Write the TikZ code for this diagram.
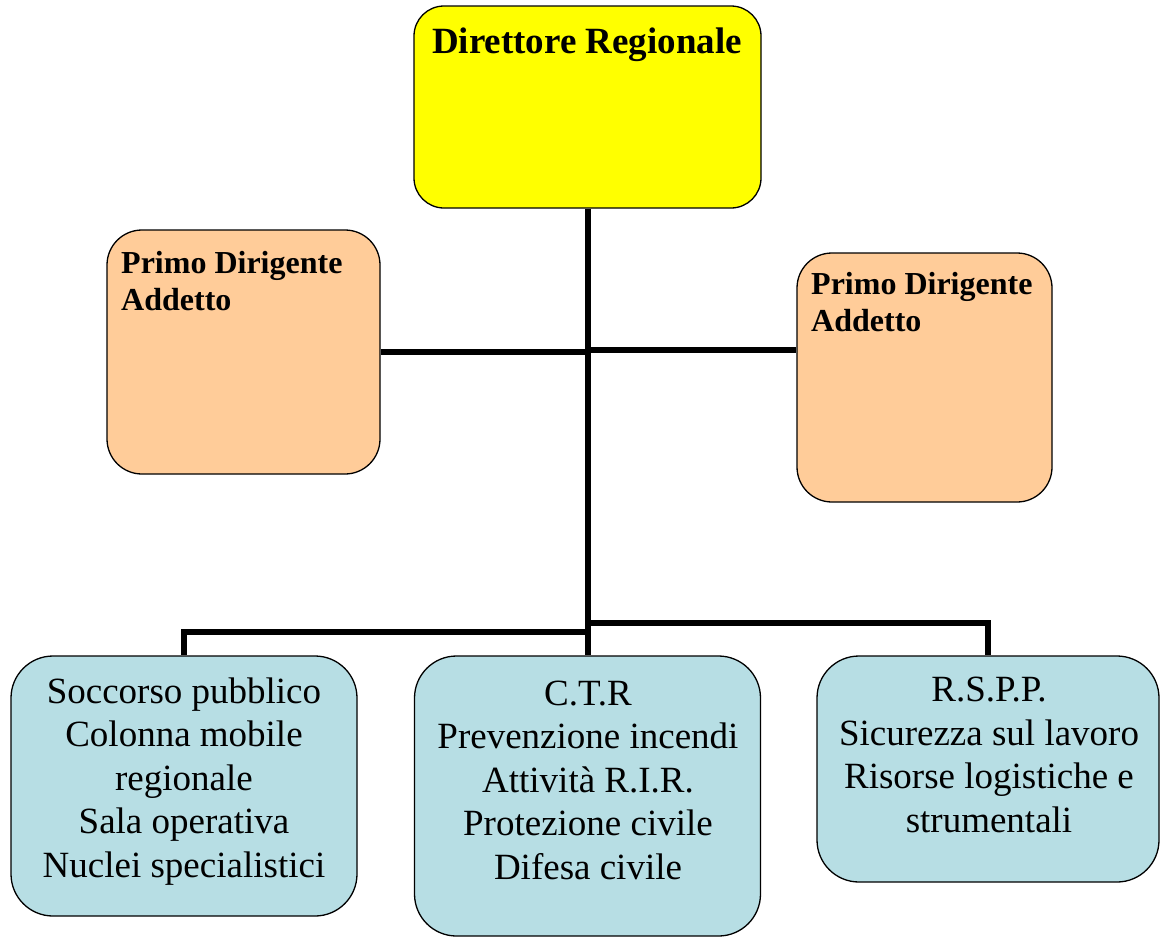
\documentclass[tikz,border=0pt]{standalone}
\usepackage{fontspec}
\setmainfont{Liberation Serif}
\usetikzlibrary{positioning}

\definecolor{dirYellow}{RGB}{255,255,0}
\definecolor{pdPeach}{RGB}{255,204,153}
\definecolor{ufBlue}{RGB}{183,222,228}

\begin{document}
\begin{tikzpicture}[x=1pt,y=-1pt,
  box/.style={rectangle,draw=black,line width=1.3pt,rounded corners=#1,inner sep=0pt},
  box/.default=35pt,
  conn/.style={draw=black,line width=6pt},
  head/.style={font=\fontsize{37}{43}\selectfont\bfseries,text=black,inner sep=0pt},
  sub/.style={font=\fontsize{32}{37}\selectfont\bfseries,text=black,align=left,inner sep=0pt},
  body/.style={font=\fontsize{37}{43.5}\selectfont,text=black,align=center,inner sep=0pt}]
\useasboundingbox (0,0) rectangle (1161,937);

% boxes
\node[box=30pt,fill=dirYellow,minimum width=347pt,minimum height=202pt] (dir) at (587.5,107) {};
\node[box,fill=pdPeach,minimum width=273pt,minimum height=244pt] (pdl) at (243.5,352) {};
\node[box,fill=pdPeach,minimum width=255pt,minimum height=249pt] (pdr) at (924.5,377.5) {};
\node[box=42pt,fill=ufBlue,minimum width=346pt,minimum height=260pt] (soc) at (184,786) {};
\node[box=42pt,fill=ufBlue,minimum width=346pt,minimum height=280pt] (ctr) at (587.5,796) {};
\node[box=42pt,fill=ufBlue,minimum width=342pt,minimum height=226pt] (rspp) at (988,769) {};

% connectors
\coordinate (jl) at (dir.south |- pdl.east);
\coordinate (jr) at (dir.south |- 0,350);
\coordinate (jbl) at (dir.south |- 0,632);
\coordinate (jbr) at (dir.south |- 0,623);
\draw[conn] (dir.south) -- (ctr.north);
\draw[conn] (pdl.east) -- (jl);
\draw[conn] (jr) -- (jr -| pdr.west);
\draw[conn] (jbl) -| (soc.north);
\draw[conn] (jbr) -| (rspp.north);

% texts (base = last line)
\node[head,anchor=base] (dirtxt) at (587,53) {Direttore Regionale};
\node[sub,anchor=base west] (pdltxt) at (121,310) {Primo Dirigente\\Addetto};
\node[sub,anchor=base west] (pdrtxt) at (811,331) {Primo Dirigente\\Addetto};
\node[body,anchor=base] (soctxt) at (184,877) {Soccorso pubblico\\Colonna mobile\\regionale\\Sala operativa\\Nuclei specialistici};
\node[body,anchor=base] (ctrtxt) at (588,879) {C.T.R\\Prevenzione incendi\\Attività R.I.R.\\Protezione civile\\Difesa civile};
\node[body,anchor=base] (rspptxt) at (989,832) {R.S.P.P.\\Sicurezza sul lavoro\\Risorse logistiche e\\strumentali};

\end{tikzpicture}
\end{document}
